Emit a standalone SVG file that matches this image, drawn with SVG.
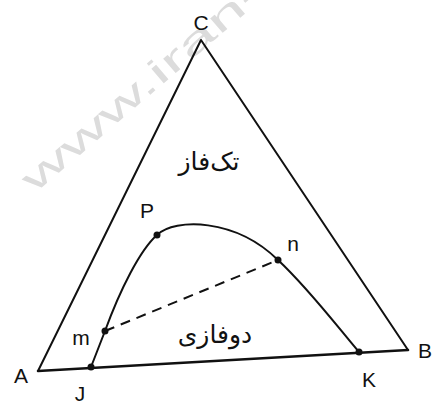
<svg xmlns="http://www.w3.org/2000/svg" width="434" height="406" viewBox="0 0 434 406">
<style>
.ln{fill:none;stroke:#111;stroke-width:2;stroke-linecap:round;stroke-linejoin:round}
.base{fill:none;stroke:#111;stroke-width:2.6;stroke-linecap:round}
.dash{fill:none;stroke:#111;stroke-width:2;stroke-dasharray:10 7}
.lbl{font-family:"Liberation Sans",Arial,sans-serif;font-size:21px;fill:#111;text-anchor:middle}
.fa{font-family:"DejaVu Sans","Noto Sans",sans-serif;font-size:25px;fill:#111;text-anchor:middle}
.dot{fill:#111}
.wm{font-family:"Liberation Sans",Arial,sans-serif;font-size:36px;fill:#dcdcdc}
</style>
<rect width="434" height="406" fill="#fff"/>
<text class="wm" transform="translate(34,194) rotate(-40.5)" textLength="305" lengthAdjust="spacingAndGlyphs">www.iran-</text>
<g id="connectors">
<path class="ln" d="M38,371 L201,40 L408,350"/>
<path class="base" d="M38,371 L408,350"/>
<path class="ln" d="M91,367 L105,331 C120,290 140,250 157,235 C175,218 235,218 278,260 C310,290 340,330 359,352"/>
<path class="dash" d="M105,331 L278,260"/>
</g>
<g id="C"><text class="lbl" x="201" y="30">C</text></g>
<g id="A"><text class="lbl" x="21" y="383">A</text></g>
<g id="B"><text class="lbl" x="425" y="358">B</text></g>
<g id="J"><circle class="dot" cx="91" cy="367" r="3.5"/><text class="lbl" x="80" y="401">J</text></g>
<g id="K"><circle class="dot" cx="359" cy="352" r="3.5"/><text class="lbl" x="369" y="387">K</text></g>
<g id="m"><circle class="dot" cx="105" cy="331" r="3.5"/><text class="lbl" x="81" y="345">m</text></g>
<g id="n"><circle class="dot" cx="278" cy="260" r="3.5"/><text class="lbl" x="293" y="251">n</text></g>
<g id="P"><circle class="dot" cx="157" cy="235" r="3.5"/><text class="lbl" x="147" y="218">P</text></g>
<g id="single"><text class="fa" x="209" y="170">تک‌فاز</text></g>
<g id="two"><text class="fa" x="215" y="343">دوفازی</text></g>
</svg>
